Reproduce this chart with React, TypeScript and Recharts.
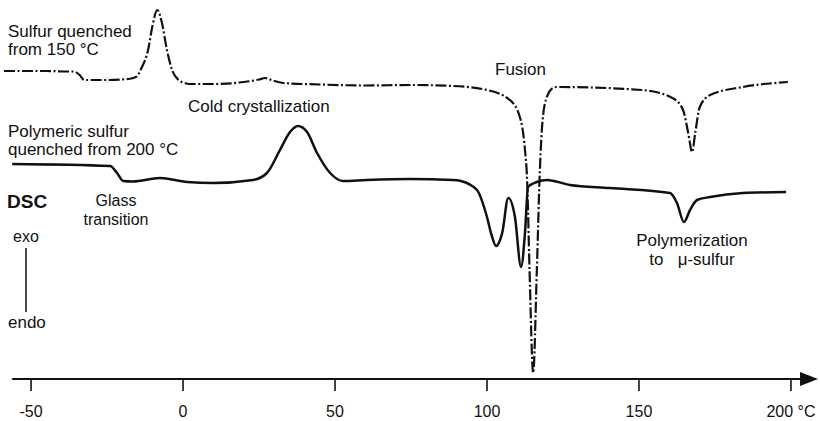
import { LineChart, Line, XAxis, YAxis, ReferenceLine, ReferenceDot } from "recharts";

// temperature axis, °C
const xTicks = [-50, 0, 50, 100, 150, 200];

// sulfur quenched from 150 °C (dash-dot trace), exo up, arbitrary units
const quenchedT = [
  -58.9, -45, -38, -36, -34, -32.5, -31, -25, -18, -15.5, -13.5, -11.5, -10, -8.5, -7, -5.3,
  -3.6, -1.5, 0.5, 2, 10, 20, 25, 27, 29, 33, 45, 60, 75, 88.8, 100, 107.5, 110.8, 112.5,
  113.2, 114, 115.2, 116.4, 117.4, 118.3, 119.7, 121.7, 123, 151, 161, 164.5, 166.2, 167.5,
  168.5, 170, 173.4, 184.2, 199,
];
const quenchedSignal = [
  308, 308, 307.5, 307.5, 304, 299, 299, 299, 300, 302, 312, 329, 354, 369, 357, 329,
  309, 299, 296, 295, 295, 297, 299.5, 301, 299, 296, 294.5, 293.5, 294, 293, 289, 279, 262, 229,
  199, 109, 6, 109, 209, 259, 282, 291, 292, 289, 281, 269, 246, 227,
  246, 272, 284, 292, 297,
];

// polymeric sulfur quenched from 200 °C (solid trace)
const polymericT = [
  -56.2, -24, -21.7, -19.7, -16.5, -7.6, 1.3, 9.9, 23, 27.6, 31.9, 35.2, 37.8, 40.8, 44.1,
  48.4, 52.6, 60.5, 74.7, 88.8, 91.4, 96.7, 100, 101.5, 103, 104.3, 105, 107, 109.2, 111.2,
  112.5, 113.5, 116.4, 119.7, 127.3, 140.5, 160.2, 162.5, 164.8, 166.8, 169.1, 173.4, 184.2,
  198.4,
];
const polymericSignal = [
  215, 213, 206, 198, 197.5, 201, 197, 196, 199, 206, 229, 247, 253, 247, 226,
  206, 198, 199, 200, 199, 198, 189, 162, 144, 133, 139, 146, 181, 162, 112,
  146, 192, 197, 199, 194, 191, 186, 176, 157, 169, 179, 182, 186,
  187,
];

const quenched = quenchedT.map((t, i) => ({ t, v: quenchedSignal[i] }));
const polymeric = polymericT.map((t, i) => ({ t, v: polymericSignal[i] }));

const font = "'Liberation Sans', Arial, Helvetica, sans-serif";
const ink = "#111";

function Arrow(props: any) {
  const { cx, cy } = props;
  return <polygon points={`${cx},${cy} ${cx - 18},${cy - 7} ${cx - 18},${cy + 7}`} fill={ink} />;
}

export default function App() {
  const txt = { fontFamily: font, fontSize: 17, fill: ink };
  return (
    <div style={{ position: "fixed", left: 0, top: 0, background: "#fff" }}>
      <LineChart width={820} height={421} margin={{ top: 0, right: 2, bottom: 0, left: 4 }}>
        <XAxis
          dataKey="t"
          type="number"
          domain={[-58.9, 208.9]}
          ticks={xTicks}
          allowDataOverflow
          axisLine={false}
          tickSize={12}
          tickMargin={15}
          tickLine={{ stroke: ink, strokeWidth: 1.6 }}
          tick={{ fontFamily: font, fontSize: 16, fill: ink }}
          tickFormatter={(v: number) => (v === 200 ? "200 °C" : String(v))}
          height={42}
        />
        <YAxis hide type="number" domain={[0, 379]} />
        <ReferenceLine
          segment={[
            { x: -56.2, y: 0 },
            { x: 204, y: 0 },
          ]}
          stroke={ink}
          strokeWidth={2}
          ifOverflow="visible"
        />
        <ReferenceDot x={208.9} y={0} ifOverflow="visible" shape={<Arrow />} />
        <Line
          data={quenched}
          dataKey="v"
          type="monotone"
          stroke={ink}
          strokeWidth={2.2}
          strokeDasharray="11 2.5 2 2.5"
          dot={false}
          isAnimationActive={false}
        />
        <Line
          data={polymeric}
          dataKey="v"
          type="monotone"
          stroke={ink}
          strokeWidth={2.5}
          dot={false}
          isAnimationActive={false}
        />
        <text x={8} y={37} {...txt}>Sulfur quenched</text>
        <text x={8} y={55} {...txt}>from 150 °C</text>
        <text x={188} y={112} {...txt}>Cold crystallization</text>
        <text x={8} y={137} {...txt}>Polymeric sulfur</text>
        <text x={8} y={155} {...txt}>quenched from 200 °C</text>
        <text x={495} y={75} {...txt}>Fusion</text>
        <text x={7} y={208} fontFamily={font} fontSize={19} fontWeight="bold" fill={ink}>DSC</text>
        <text x={116} y={206} textAnchor="middle" {...txt} fontSize={16}>Glass</text>
        <text x={116} y={225} textAnchor="middle" {...txt} fontSize={16}>transition</text>
        <text x={13} y={242} {...txt} fontSize={16}>exo</text>
        <line x1={26} y1={248} x2={26} y2={312} stroke={ink} strokeWidth={1.5} />
        <text x={8} y={328} {...txt}>endo</text>
        <text x={692} y={246} textAnchor="middle" {...txt}>Polymerization</text>
        <text x={692} y={265} textAnchor="middle" {...txt}>to{"\u00a0\u00a0 "}μ-sulfur</text>
      </LineChart>
    </div>
  );
}
